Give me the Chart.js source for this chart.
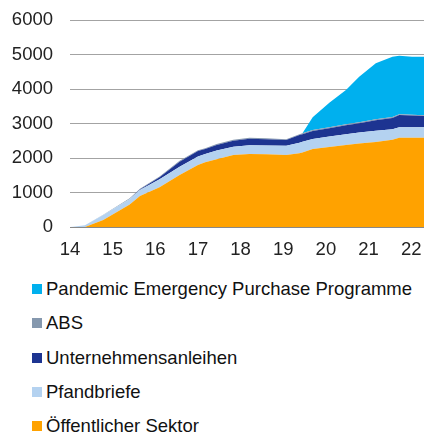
<!DOCTYPE html>
<html>
<head>
<meta charset="utf-8">
<script src="https://cdn.jsdelivr.net/npm/chart.js@4.4.1/dist/chart.umd.min.js"></script>
<style>
  html, body { margin: 0; padding: 0; background: #fff; }
  body { width: 424px; height: 434px; position: relative; overflow: hidden; font-family: "Liberation Sans", Arial, sans-serif; }
  #wrap { position: absolute; left: 0; top: 0; width: 424px; height: 264px; }
  #legend { position: absolute; left: 32px; top: 272px; }
  .item { height: 34.3px; display: flex; align-items: center; font-size: 18.5px; color: #111; white-space: nowrap; }
  .box { width: 10px; height: 10px; margin-right: 4px; flex: none; }
</style>
</head>
<body>
<div id="wrap"><canvas id="chart" width="424" height="264"></canvas></div>
<div id="legend"></div>
<script>
// years (fraction of year, axis shows 14 .. 22)
const years = [14.0, 14.07, 14.35, 14.78, 15.4, 15.64, 16.1, 16.57, 17.0, 17.17, 17.44, 17.83, 18.21, 18.6, 19.07, 19.38, 19.45, 19.69, 20.08, 20.47, 20.78, 21.17, 21.56, 21.72, 22.02, 22.3];

// holdings per programme, bn EUR (stacked)
const oeffentlicherSektor = [0, 0, 0, 203, 650, 900, 1150, 1507, 1797, 1880, 1962, 2087, 2116, 2106, 2087, 2140, 2160, 2261, 2320, 2380, 2420, 2465, 2530, 2589, 2589, 2589];
const pfandbriefe = [0, 10, 49, 145, 161, 172, 232, 242, 243, 236, 258, 241, 251, 259, 270, 304, 310, 290, 305, 310, 320, 325, 300, 300, 300, 300];
const unternehmensanleihen = [0, 0, 0, 0, 0, 15, 58, 144, 160, 145, 160, 174, 193, 180, 165, 223, 220, 232, 240, 260, 270, 305, 330, 357, 341, 328];
const abs = [0, 0, 3, 10, 20, 25, 25, 25, 25, 25, 25, 25, 25, 25, 25, 25, 25, 25, 25, 25, 25, 25, 25, 25, 25, 25];
const pepp = [0, 0, 0, 0, 0, 0, 0, 0, 0, 0, 0, 0, 0, 0, 0, 0, 0, 372, 710, 996, 1322, 1624, 1752, 1694, 1682, 1694];

const seriesLabels = ["Öffentlicher Sektor", "Pfandbriefe", "Unternehmensanleihen", "ABS", "Pandemic Emergency Purchase Programme"];
const seriesValues = [oeffentlicherSektor, pfandbriefe, unternehmensanleihen, abs, pepp];
const seriesColors = ["#FFA200", "#B4D2F0", "#1D3491", "#8598AE", "#00B0EE"];

const tickFont = { family: "Liberation Sans", size: 18.5 };

const datasets = seriesValues.map((vals, i) => ({
  label: seriesLabels[i],
  data: years.map((x, j) => ({ x: x, y: vals[j] })),
  backgroundColor: seriesColors[i],
  borderColor: seriesColors[i],
  borderWidth: 0,
  pointRadius: 0,
  tension: 0,
  fill: i === 0 ? "origin" : "-1",
}));

new Chart(document.getElementById("chart"), {
  type: "line",
  data: { datasets: datasets },
  options: {
    responsive: false,
    animation: false,
    layout: { padding: 0 },
    plugins: { legend: { display: false }, tooltip: { enabled: false } },
    scales: {
      x: {
        type: "linear",
        min: 14,
        max: 22.3,
        grid: { display: false, drawTicks: false },
        border: { display: true, color: "#888" },
        ticks: {
          stepSize: 1,
          includeBounds: false,
          autoSkip: false,
          maxRotation: 0,
          padding: 12,
          color: "#222",
          font: tickFont,
          callback: (v) => (Number.isInteger(v) ? String(v) : ""),
        },
        afterFit: (scale) => {
          scale.height = 37;
          scale.paddingLeft = 0;
          scale.paddingRight = 0;
        },
      },
      y: {
        stacked: true,
        min: 0,
        max: 6000,
        grid: { color: "#a3a3a3", drawTicks: false },
        border: { display: false },
        ticks: { stepSize: 1000, padding: 17, color: "#222", font: tickFont, callback: (v) => String(v) },
        afterFit: (scale) => {
          scale.width = 70;
          scale.paddingTop = 20;
          scale.paddingBottom = 0;
        },
      },
    },
  },
});

// legend, top series first
const legend = document.getElementById("legend");
for (let i = seriesLabels.length - 1; i >= 0; i--) {
  const row = document.createElement("div");
  row.className = "item";
  row.innerHTML = `<span class="box" style="background:${seriesColors[i]}"></span><span>${seriesLabels[i]}</span>`;
  legend.appendChild(row);
}
</script>
</body>
</html>
